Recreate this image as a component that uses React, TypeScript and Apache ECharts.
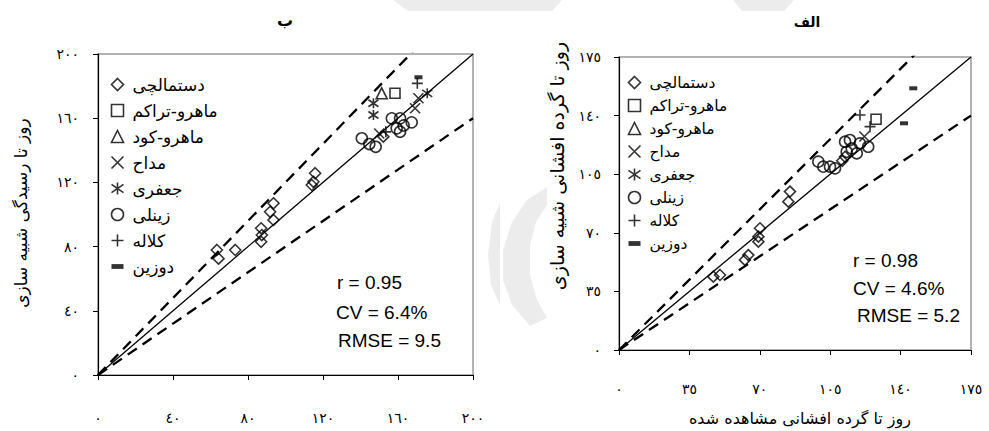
import React, { useEffect, useRef } from "react";
import * as echarts from "echarts";

// ---------- data ----------
const seriesNames = ["دستمالچی", "ماهرو-تراکم", "ماهرو-کود", "مداح", "جعفری", "زینلی", "کلاله", "دوزین"];

// Chart "ب" (left): days to maturity, observed (x) vs simulated (y)
const leftData: number[][][] = [
  // دستمالچی
  [[63.4, 77.9], [64.3, 72.5], [73.2, 77.9], [87.0, 91.4], [87.4, 87.2], [87.0, 83.0], [93.6, 107.0], [91.8, 101.7], [93.6, 96.6], [115.8, 125.7], [114.9, 120.4], [114.0, 118.4], [152.2, 148.5]],
  // ماهرو-تراکم
  [[158.4, 175.5]],
  // ماهرو-کود
  [[151.3, 175.5]],
  // مداح
  [[169.1, 166.2], [170.9, 172.4], [150.0, 150.5]],
  // جعفری
  [[146.9, 162.0], [146.9, 169.3], [175.6, 175.5]],
  // زینلی
  [[140.7, 147.5], [144.7, 143.9], [148.1, 142.2], [156.7, 159.9], [161.1, 159.9], [159.3, 153.7], [167.3, 157.4], [161.1, 151.6], [163.0, 155.5]],
  // کلاله
  [[170.3, 181.7], [153.5, 151.5]],
  // دوزین
  [[170.9, 185.5]],
];

// Chart "الف" (right): days to anthesis, observed (x) vs simulated (y)
const rightData: number[][][] = [
  // دستمالچی
  [[46.9, 43.8], [50.2, 44.8], [64.3, 56.7], [62.6, 53.8], [70.1, 72.7], [69.3, 67.7], [69.3, 64.7], [85.0, 94.6], [84.2, 88.6], [112.4, 115.4], [111.0, 113.0]],
  // ماهرو-تراکم
  [[127.8, 137.8]],
  // ماهرو-کود
  [],
  // مداح
  [[122.0, 127.5]],
  // جعفری
  [],
  // زینلی
  [[99.1, 112.5], [101.6, 109.5], [104.9, 109.5], [107.4, 108.5], [112.4, 124.4], [114.8, 125.4], [113.2, 118.4], [118.2, 117.5], [119.8, 123.4], [123.9, 121.4], [115.7, 120.4]],
  // کلاله
  [[119.8, 140.4], [124.8, 133.4]],
  // دوزین
  [[141.7, 135.4], [146.3, 156.3]],
];

const leftTicks = ["٠", "٤٠", "٨٠", "١٢٠", "١٦٠", "٢٠٠"];
const rightTicks = ["٠", "٣٥", "٧٠", "١٠٥", "١٤٠", "١٧٥"];
const leftMax = 200;
const rightMax = 175;
const leftInterval = 40;
const rightInterval = 35;

// reference lines: 1:1 and ±20 %
const refRatios = [1, 1.2, 0.8];

const leftStats = ["r = 0.95", "CV = 6.4%", "RMSE = 9.5"];
const rightStats = ["r = 0.98", "CV = 4.6%", "RMSE = 5.2"];

const leftTitle = "ب";
const rightTitle = "الف";
const leftYName = "روز تا رسیدگی شبیه سازی";
const rightYName = "روز تا گرده افشانی شبیه سازی";
const rightXName = "روز تا گرده افشانی مشاهده شده";

// ---------- styles ----------
const X_PATH = "path://M0,0L10,10M10,0L0,10";
const AST_PATH = "path://M5,0L5,10M0,1.5L10,8.5M10,1.5L0,8.5";
const PLUS_PATH = "path://M5,0L5,10M0,5L10,5";
const DASH_PATH = "path://M0,0L10,0L10,4L0,4Z";

const symbols = ["diamond", "rect", "triangle", X_PATH, AST_PATH, "circle", PLUS_PATH, DASH_PATH];
const symbolSizes: any[] = [11, 10, 11, 10, 10, 11, 11, [8, 4]];

const PERSIAN_FONT = "'DejaVu Sans', 'Noto Sans', sans-serif";
const LATIN_FONT = "'Liberation Sans', Arial, sans-serif";

function itemStyleFor(i: number) {
  if (i === 7) return { color: "#000", borderColor: "#000", borderWidth: 0 };
  return { color: "none", borderColor: "#000", borderWidth: 1.6 };
}

export default function App() {
  const ref = useRef<HTMLDivElement>(null);

  useEffect(() => {
    document.body.style.margin = "0";
    const chart = echarts.init(ref.current!, undefined, { renderer: "svg" });

    const grids = [
      { left: 98, top: 54, width: 375, height: 321 },
      { left: 619, top: 57, width: 352, height: 293 },
    ];
    const maxes = [leftMax, rightMax];
    const intervals = [leftInterval, rightInterval];
    const ticks = [leftTicks, rightTicks];
    const xMargins = [36, 32];
    const yMargins = [19, 18];

    const xAxes: any[] = [];
    const yAxes: any[] = [];
    [0, 1].forEach((g) => {
      const common = {
        gridIndex: g,
        type: "value",
        min: 0,
        max: maxes[g],
        interval: intervals[g],
        splitLine: { show: false },
        axisLine: { show: true, onZero: false, lineStyle: { color: "#000", width: 1.2 } },
        axisTick: { show: true, inside: false, length: 5, lineStyle: { color: "#000", width: 1 } },
      };
      const label = {
        fontFamily: PERSIAN_FONT,
        fontSize: 14,
        color: "#000",
        formatter: (v: number) => ticks[g][Math.round(v / intervals[g])],
      };
      xAxes.push({ ...common, position: "bottom", axisLabel: { ...label, margin: xMargins[g] } });
      yAxes.push({ ...common, position: "left", axisLabel: { ...label, margin: yMargins[g] } });
    });

    const series: any[] = [];
    [0, 1].forEach((g) => {
      const m = maxes[g];
      refRatios.forEach((r, k) => {
        series.push({
          type: "line",
          name: "ref" + g + "_" + k,
          xAxisIndex: g,
          yAxisIndex: g,
          data: [[0, 0], [m, m * r]],
          symbol: "none",
          showSymbol: false,
          clip: true,
          silent: true,
          z: 1,
          lineStyle: k === 0
            ? { color: "#000", width: 1.3, type: "solid" }
            : { color: "#000", width: 2.3, type: [11, 7] },
        });
      });
      const data = g === 0 ? leftData : rightData;
      seriesNames.forEach((n, i) => {
        series.push({
          type: "scatter",
          name: n,
          xAxisIndex: g,
          yAxisIndex: g,
          data: data[i],
          symbol: symbols[i],
          symbolSize: symbolSizes[i],
          itemStyle: itemStyleFor(i),
          z: 3,
        });
      });
    });

    const legendData = seriesNames.map((n, i) => ({
      name: n,
      icon: symbols[i],
      itemStyle: itemStyleFor(i),
    }));

    const legends = [
      { left: 109, top: 75, itemGap: 7, fontSize: 17, lineHeight: 14 },
      { left: 626, top: 74, itemGap: 6, fontSize: 15.5, lineHeight: 12 },
    ].map((l) => ({
      data: legendData,
      orient: "vertical",
      left: l.left,
      top: l.top,
      itemGap: l.itemGap,
      itemWidth: 12,
      itemHeight: 12,
      selectedMode: false,
      padding: 0,
      textStyle: {
        fontFamily: PERSIAN_FONT,
        fontSize: l.fontSize,
        lineHeight: l.lineHeight,
        color: "#000",
        padding: [5, 0, 0, 4],
      },
    }));

    const titles = [
      { text: leftTitle, left: 285, top: 12, size: 16 },
      { text: rightTitle, left: 807, top: 15, size: 14 },
    ].map((t) => ({
      text: t.text,
      left: t.left,
      top: t.top,
      textAlign: "center",
      padding: 0,
      textStyle: { fontFamily: PERSIAN_FONT, fontSize: t.size, fontWeight: "bold", color: "#000" },
    }));

    const statText = (lines: string[], xs: number[], ys: number[]) =>
      lines.map((t, i) => ({
        type: "text",
        x: xs[i],
        y: ys[i],
        style: {
          text: t,
          fontFamily: LATIN_FONT,
          fontSize: 19,
          fill: "#000",
          align: "left",
          verticalAlign: "middle",
        },
      }));

    const textEl = (x: number, y: number, text: string, size: number, rot = 0) => ({
      type: "text",
      x,
      y,
      rotation: rot,
      style: {
        text,
        fontFamily: PERSIAN_FONT,
        fontSize: size,
        fill: "#000",
        align: "center",
        verticalAlign: "middle",
      },
    });

    const wm = "#ececec";
    const graphic: any[] = [
      // faint watermark shapes
      { type: "polygon", z: -10, silent: true, shape: { points: [[393, 0], [562, 0], [552, 11], [408, 11]] }, style: { fill: wm } },
      { type: "polygon", z: -10, silent: true, shape: { points: [[733, 0], [794, 0], [784, 11], [742, 11]] }, style: { fill: wm } },
      { type: "polygon", z: -10, silent: true, shape: { points: [[500, 203], [492, 222], [488, 255], [491, 285], [500, 305]] }, style: { fill: wm } },
      { type: "polygon", z: -10, silent: true, shape: { points: [[547, 187], [527, 200], [512, 222], [503, 250], [503, 280], [512, 305], [530, 326], [547, 318], [537, 300], [530, 275], [530, 245], [536, 222], [547, 205]] }, style: { fill: wm } },
      ...statText(leftStats, [337, 336, 338], [282, 312, 340]),
      ...statText(rightStats, [853, 853, 857], [260, 288, 315]),
      textEl(21, 213, leftYName, 17, Math.PI / 2),
      textEl(557, 166, rightYName, 19, Math.PI / 2),
      textEl(800, 418, rightXName, 16),
    ];

    chart.setOption({
      animation: false,
      backgroundColor: "#fff",
      title: titles,
      grid: grids.map((g) => ({ ...g, show: true, borderColor: "#999", borderWidth: 1.5, backgroundColor: "transparent" })),
      xAxis: xAxes,
      yAxis: yAxes,
      legend: legends,
      series,
      graphic,
    });

    return () => chart.dispose();
  }, []);

  return <div ref={ref} style={{ width: 989, height: 431 }} />;
}
